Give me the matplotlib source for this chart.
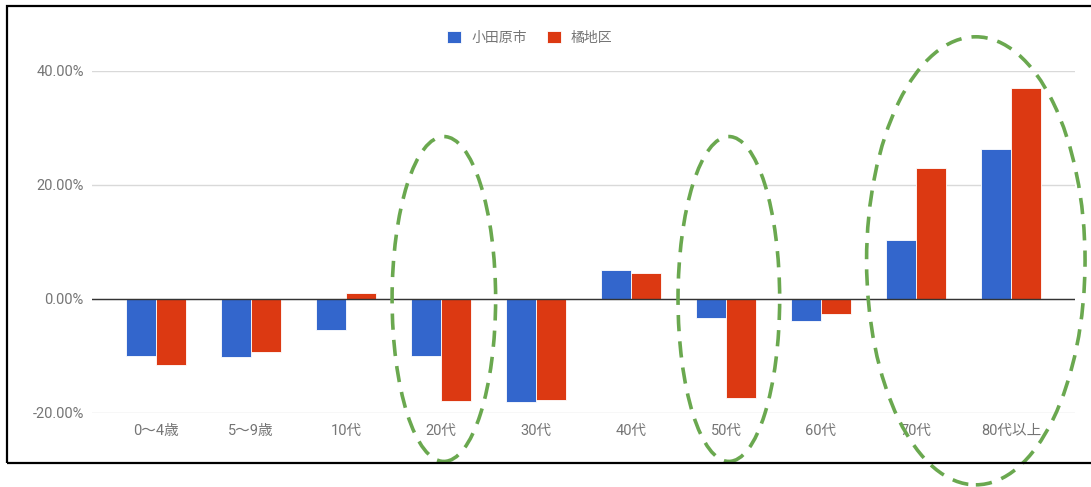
import numpy as np
import matplotlib
matplotlib.use("Agg")
import matplotlib.pyplot as plt
from matplotlib.patches import Ellipse, Rectangle

plt.rcParams['font.family'] = ['Roboto', 'Noto Sans CJK JP', 'DejaVu Sans']

categories = ['0〜4歳', '5〜9歳', '10代', '20代', '30代', '40代', '50代', '60代', '70代', '80代以上']
odawara = [-10.0, -10.2, -5.4, -10.0, -18.1, 5.1, -3.3, -3.9, 10.4, 26.3]
tachibana = [-11.6, -9.3, 1.1, -17.9, -17.7, 4.6, -17.4, -2.6, 23.0, 37.0]
series_names = ['小田原市', '橘地区']
yticks = [-20, 0, 20, 40]

blue = '#3366cc'
red = '#dc3912'
green = '#6aa84f'
gray = '#757575'

W, H = 1091, 487
fig = plt.figure(figsize=(W / 100, H / 100), dpi=100)
ax = fig.add_axes([92 / W, 1 - 413 / H, (1075 - 92) / W, (413 - 71) / H])

x = np.arange(len(categories))
bw = 0.32
ax.bar(x - bw / 2, odawara, bw, color=blue, edgecolor='white', linewidth=0.6, label=series_names[0], zorder=3)
ax.bar(x + bw / 2, tachibana, bw, color=red, edgecolor='white', linewidth=0.6, label=series_names[1], zorder=3)

ax.set_xlim(-0.674, 9.674)
ax.set_ylim(-20, 40)
ax.set_yticks(yticks)
ax.set_yticklabels([f'{v:.2f}%' for v in yticks])
ax.set_xticks(x)
ax.set_xticklabels(categories)
ax.tick_params(axis='both', length=0, colors=gray, labelsize=10.5)
ax.tick_params(axis='x', pad=8)
ax.tick_params(axis='y', pad=6)
for s in ax.spines.values():
    s.set_visible(False)
ax.grid(axis='y', color='#d9d9d9', linewidth=1, zorder=0)
ax.axhline(0, color='#333333', linewidth=1, zorder=4)

# green dashed ellipses
for cx, cy, w, h in [(3.03, 0, 1.09, 57), (6.03, 0, 1.07, 57), (8.63, 6.7, 2.3, 78.6)]:
    ax.add_patch(Ellipse((cx, cy), w, h, fill=False, edgecolor=green, linewidth=2.6,
                         linestyle=(0, (4.5, 2.8)), clip_on=False, zorder=5))

leg = ax.legend(loc='center', bbox_to_anchor=(530 / W, 1 - 38 / H), bbox_transform=fig.transFigure,
                ncol=2, frameon=False, handlelength=1.0, handleheight=1.0, handletextpad=0.7,
                columnspacing=1.5, fontsize=10)
for t in leg.get_texts():
    t.set_color(gray)

# black frame
fig.patches.append(Rectangle((7 / W, 1 - 463 / H), 1.1, (463 - 6) / H, transform=fig.transFigure,
                             fill=False, edgecolor='black', linewidth=1.6, zorder=10))

fig.savefig('out.png', dpi=100)
